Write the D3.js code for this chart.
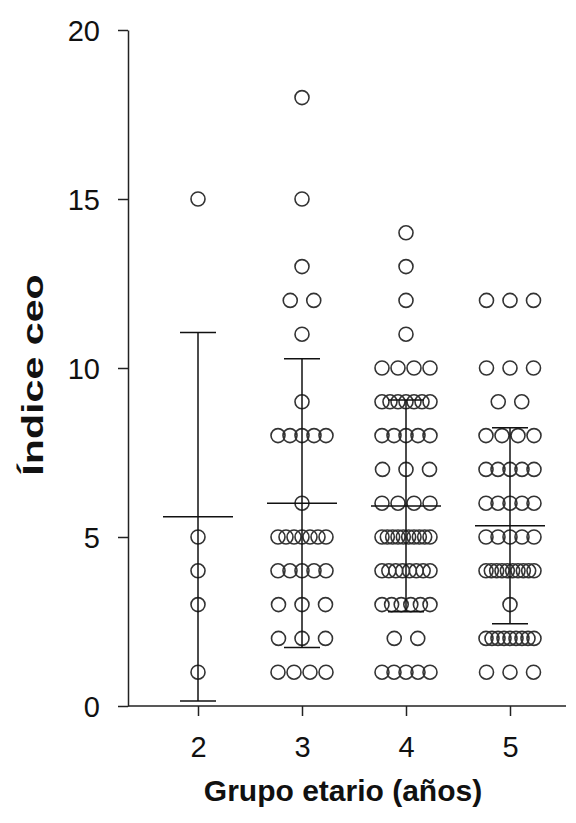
<!DOCTYPE html>
<html>
<head>
<meta charset="utf-8">
<script src="https://cdn.jsdelivr.net/npm/d3@7"></script>
<style>
  body { margin: 0; background: #fff; }
  svg text { font-family: "Liberation Sans", Arial, sans-serif; }
</style>
</head>
<body>
<div id="viz"></div>
<script>
// age groups on the x axis
const groups = ["2", "3", "4", "5"];

// ceo index of every child, one array per age group
const group2 = [1, 3, 4, 5, 15];
const group3 = [1, 1, 1, 1, 2, 2, 2, 3, 3, 3, 4, 4, 4, 4, 4, 5, 5, 5, 5, 5, 5, 5,
  6, 8, 8, 8, 8, 8, 9, 11, 12, 12, 13, 15, 18];
const group4 = [1, 1, 1, 1, 1, 2, 2, 3, 3, 3, 3, 3, 3, 4, 4, 4, 4, 4, 4, 4, 4,
  5, 5, 5, 5, 5, 5, 5, 5, 5, 5, 6, 6, 6, 6, 7, 7, 7, 8, 8, 8, 8, 8,
  9, 9, 9, 9, 9, 9, 9, 10, 10, 10, 10, 11, 12, 13, 14];
const group5 = [1, 1, 1, 2, 2, 2, 2, 2, 2, 2, 2, 2, 3, 4, 4, 4, 4, 4, 4, 4, 4, 4, 4,
  5, 5, 5, 5, 5, 6, 6, 6, 6, 6, 7, 7, 7, 7, 7, 8, 8, 8, 8, 9, 9,
  10, 10, 10, 12, 12, 12];

// mean and SD drawn as the error bars
const means = [5.6, 6.0, 5.92, 5.33];
const sds = [5.45, 4.27, 3.13, 2.9];

const yTicks = [0, 5, 10, 15, 20];

const width = 576, height = 823;

const svg = d3.select("#viz").append("svg")
  .attr("width", width)
  .attr("height", height);

const y = d3.scaleLinear().domain([0, 20]).range([706, 30]);
const x = d3.scalePoint().domain(groups).range([198, 510]);

const axisLeft = 128, axisRight = 566;

// y axis
const yAxis = svg.append("g")
  .attr("transform", `translate(${axisLeft},0)`)
  .call(d3.axisLeft(y).tickValues(yTicks).tickSize(10).tickSizeOuter(0));
yAxis.select(".domain").attr("stroke", "#222").attr("stroke-width", 1.5);
yAxis.selectAll(".tick line").attr("stroke", "#222").attr("stroke-width", 1.5);
yAxis.selectAll(".tick text")
  .attr("x", -28)
  .attr("dy", "0.36em")
  .attr("fill", "#111")
  .style("font-size", "29px");

// x axis
const xAxis = svg.append("g")
  .attr("transform", `translate(0,${y(0)})`)
  .call(d3.axisBottom(x).tickSize(10).tickSizeOuter(0));
xAxis.select(".domain")
  .attr("d", `M${axisLeft},0H${axisRight}`)
  .attr("stroke", "#222").attr("stroke-width", 1.5);
xAxis.selectAll(".tick line").attr("stroke", "#222").attr("stroke-width", 1.5);
xAxis.selectAll(".tick text")
  .attr("y", 51)
  .attr("dy", 0)
  .attr("fill", "#111")
  .style("font-size", "29px");

// axis titles
svg.append("text")
  .attr("transform", `translate(43,375) rotate(-90) scale(1.42,1)`)
  .attr("text-anchor", "middle")
  .style("font-size", "29px")
  .style("font-weight", "bold")
  .attr("fill", "#111")
  .text("Índice ceo");

svg.append("text")
  .attr("x", 343)
  .attr("y", 801)
  .attr("text-anchor", "middle")
  .style("font-size", "30px")
  .style("font-weight", "bold")
  .attr("fill", "#111")
  .text("Grupo etario (años)");

// spread the dots of each row sideways like a scatter dot plot
const spreadRow = (n) => {
  if (n === 1) return [0];
  const step = Math.min(23.5, 48 / (n - 1));
  return d3.range(n).map(i => (i - (n - 1) / 2) * step);
};

const allGroups = [group2, group3, group4, group5];
const dots = [];
allGroups.forEach((vals, gi) => {
  const rows = d3.group(vals, v => v);
  for (const [v, list] of rows) {
    spreadRow(list.length).forEach(off => {
      dots.push({ group: groups[gi], value: v, offset: off });
    });
  }
});

svg.append("g").selectAll("circle")
  .data(dots)
  .join("circle")
  .attr("cx", d => x(d.group) + d.offset)
  .attr("cy", d => y(d.value))
  .attr("r", 7)
  .attr("fill", "none")
  .attr("stroke", "#333")
  .attr("stroke-width", 1.6);

// mean line and SD whiskers
const bars = svg.append("g").attr("stroke", "#111").attr("stroke-width", 1.5);
groups.forEach((g, i) => {
  const cx = x(g);
  const lo = means[i] - sds[i], hi = means[i] + sds[i];
  bars.append("line")
    .attr("x1", cx).attr("x2", cx)
    .attr("y1", y(lo)).attr("y2", y(hi));
  bars.append("line")
    .attr("x1", cx - 18).attr("x2", cx + 18)
    .attr("y1", y(lo)).attr("y2", y(lo));
  bars.append("line")
    .attr("x1", cx - 18).attr("x2", cx + 18)
    .attr("y1", y(hi)).attr("y2", y(hi));
  bars.append("line")
    .attr("x1", cx - 35).attr("x2", cx + 35)
    .attr("y1", y(means[i])).attr("y2", y(means[i]));
});
</script>
</body>
</html>
